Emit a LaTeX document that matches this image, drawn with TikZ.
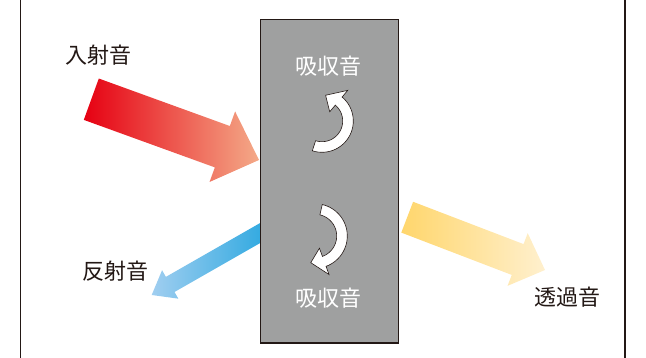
\documentclass[tikz,border=0pt]{standalone}
\usepackage{fontspec}
\newfontfamily\cjk{Noto Sans CJK JP}
\usetikzlibrary{calc, math}
\definecolor{myink}{RGB}{35, 24, 21}
\definecolor{mygray}{RGB}{159, 160, 160}
\definecolor{myred}{RGB}{230, 0, 18}
\definecolor{myredlight}{RGB}{244, 170, 136}
\definecolor{myblue}{RGB}{32, 164, 222}
\definecolor{mybluelight}{RGB}{160, 206, 240}
\definecolor{myyellow}{RGB}{255, 214, 108}
\definecolor{myyellowlight}{RGB}{255, 240, 206}

\tikzset{soundtext/.style={font=\cjk\fontsize{22}{22}\selectfont, text=myink, inner sep=0pt}}

% tail, tip, shaft half width, head half width, head length, colours
\newcommand{\soundarrow}[7]{%
  \coordinate (b) at ($(#2)!#5!(#1)$);
  \shade[left color=#6, right color=#7]
    ($(#1)!#3!90:(#2)$) -- ($(b)!#3!90:(#2)$) -- ($(b)!#4!90:(#2)$) -- (#2)
    -- ($(b)!#4!-90:(#2)$) -- ($(b)!#3!-90:(#2)$) -- ($(#1)!#3!-90:(#2)$) -- cycle;
}

% centre x, centre y, radius, start angle, end angle, tip angle
\newcommand{\turnarrow}[6]{%
  \pgfmathsetmacro{\rOut}{#3+5.3}
  \pgfmathsetmacro{\rIn}{#3-5.3}
  \pgfmathsetmacro{\rBarbOut}{#3+14}
  \pgfmathsetmacro{\rBarbIn}{#3-14}
  \draw[myink, line width=0.6pt, fill=white]
    plot[domain=#4:#5, samples=30, variable=\t] ({#1+\rOut*cos(\t)},{#2+\rOut*sin(\t)})
    -- ({#1+\rBarbOut*cos(#5)},{#2+\rBarbOut*sin(#5)})
    -- ({#1+#3*cos(#6)},{#2+#3*sin(#6)})
    -- ({#1+\rBarbIn*cos(#5)},{#2+\rBarbIn*sin(#5)})
    -- plot[domain=#5:#4, samples=30, variable=\t] ({#1+\rIn*cos(\t)},{#2+\rIn*sin(\t)})
    -- cycle;
}

\begin{document}
\begin{tikzpicture}[x=1pt, y=-1pt]
\tikzmath{
\boxL=260.5;
\boxR=398.5;
\boxT=19.5;
\boxB=343;
}
\useasboundingbox (0,0) rectangle (646,358);

% frame
\draw[myink, line width=1.3] (20.7,0) -- (20.7,358);
\draw[myink, line width=1.3] (625,0) -- (625,358);

% sound arrows
\coordinate (inTail) at (91.3,99.2);
\coordinate (inTip) at (259,160);
\coordinate (reTail) at (277,223.4);
\coordinate (reTip) at (151.7,295);
\coordinate (trTail) at (407.2,217.2);
\coordinate (trTip) at (545,270);

\soundarrow{inTail}{inTip}{22pt}{37.5pt}{39pt}{myred}{myredlight}
\soundarrow{reTail}{reTip}{8.7pt}{16.4pt}{21.3pt}{mybluelight}{myblue}
\soundarrow{trTail}{trTip}{16.5pt}{28.2pt}{29.3pt}{myyellow}{myyellowlight}

% wall
\draw[myink, fill=mygray, line width=1.2] (\boxL,\boxT) rectangle (\boxR,\boxB);

\turnarrow{322}{121}{26}{108}{-50}{-82}
\turnarrow{315}{236}{27}{-77}{70}{99}

\node[soundtext] (incident) at (98,55) {入射音};
\node[soundtext, text=white] (absorbtop) at (328,66) {吸収音};
\node[soundtext, text=white] (absorbbottom) at (328,298) {吸収音};
\node[soundtext] (reflected) at (115,271) {反射音};
\node[soundtext] (transmitted) at (567,297) {透過音};
\end{tikzpicture}
\end{document}
